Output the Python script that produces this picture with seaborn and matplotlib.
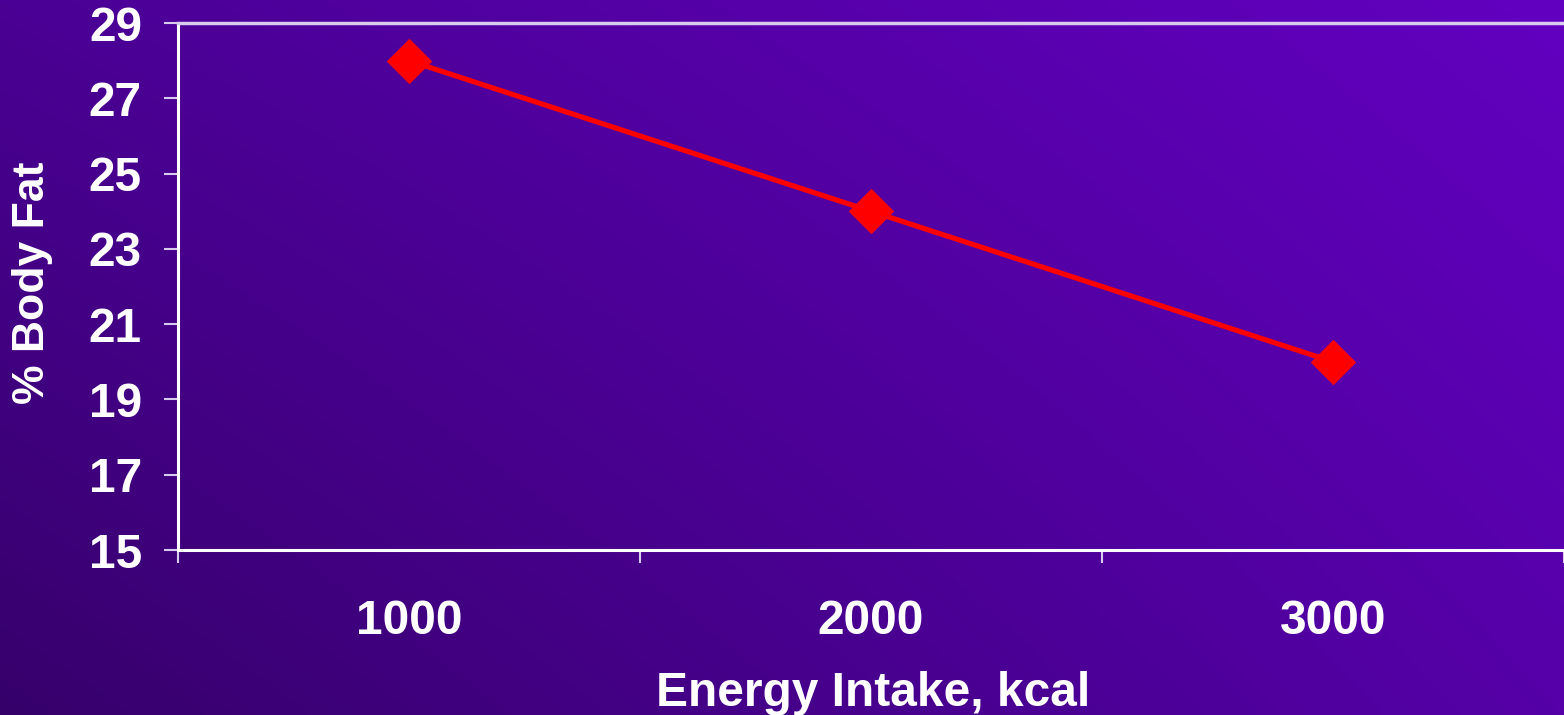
import numpy as np
import pandas as pd
import matplotlib
matplotlib.use("Agg")
import matplotlib.pyplot as plt
import seaborn as sns

# Data
intake_kcal = ["1000", "2000", "3000"]
body_fat_pct = [28, 24, 20]
y_ticks = [15, 17, 19, 21, 23, 25, 27, 29]

df = pd.DataFrame({"Energy Intake, kcal": intake_kcal, "% Body Fat": body_fat_pct})

sns.set_theme(style="white")
plt.rcParams["font.family"] = ["Liberation Sans", "DejaVu Sans"]
plt.rcParams["font.weight"] = "bold"

W, H, DPI = 1564, 715, 100
fig = plt.figure(figsize=(W / DPI, H / DPI), dpi=DPI)

# Diagonal purple gradient background (bilinear between the four corners)
tl = np.array([74, 0, 148]) / 255
tr = np.array([98, 0, 192]) / 255
bl = np.array([54, 0, 107]) / 255
br = np.array([85, 0, 168]) / 255
u = np.linspace(0, 1, 256)[None, :, None]
v = np.linspace(0, 1, 128)[:, None, None]
grad = (1 - v) * ((1 - u) * tl + u * tr) + v * ((1 - u) * bl + u * br)
bg = fig.add_axes([0, 0, 1, 1], zorder=0)
bg.imshow(grad, aspect="auto", extent=[0, 1, 0, 1], interpolation="bilinear")
bg.set_axis_off()

ax = fig.add_axes([178 / W, 1 - 550 / H, (W - 178) / W, (550 - 23) / H], zorder=1)
ax.patch.set_alpha(0)

sns.lineplot(data=df, x="Energy Intake, kcal", y="% Body Fat", ax=ax,
             color="#FF0000", linewidth=3.7, marker="D", markersize=22,
             markeredgecolor="#FF0000", sort=False)

ax.set_xlim(-0.5, 2.5)
ax.set_ylim(15, 29)
ax.set_yticks(y_ticks)

lav = "#D8CCEE"
for side in ["left", "bottom"]:
    ax.spines[side].set_color("white")
    ax.spines[side].set_linewidth(2.2)
ax.spines["top"].set_color(lav)
ax.spines["top"].set_linewidth(2.5)
ax.spines["right"].set_visible(False)

fs = 34.5
ax.tick_params(axis="y", colors=lav, length=10, width=1.5, pad=16,
               labelcolor="white", labelsize=fs, left=True)
ax.tick_params(axis="x", which="major", length=0, pad=35,
               labelcolor="white", labelsize=fs)
ax.set_xticks([-0.5, 0.5, 1.5, 2.5], minor=True)
ax.tick_params(axis="x", which="minor", bottom=True, colors=lav,
               length=9.5, width=1.5)
for lbl in ax.get_xticklabels() + ax.get_yticklabels():
    lbl.set_fontweight("bold")

ax.set_xlabel("Energy Intake, kcal", color="white", fontsize=fs,
              fontweight="bold")
ax.set_ylabel("% Body Fat", color="white", fontsize=32, fontweight="bold")
ax.xaxis.set_label_coords((873 - 178) / (W - 178), -(693 - 550) / (550 - 23))
ax.yaxis.set_label_coords(-(178 - 33) / (W - 178), (550 - 283) / (550 - 23))
ax.xaxis.label.set_va("center")
ax.yaxis.label.set_va("center")

fig.savefig("out.png", dpi=DPI)
